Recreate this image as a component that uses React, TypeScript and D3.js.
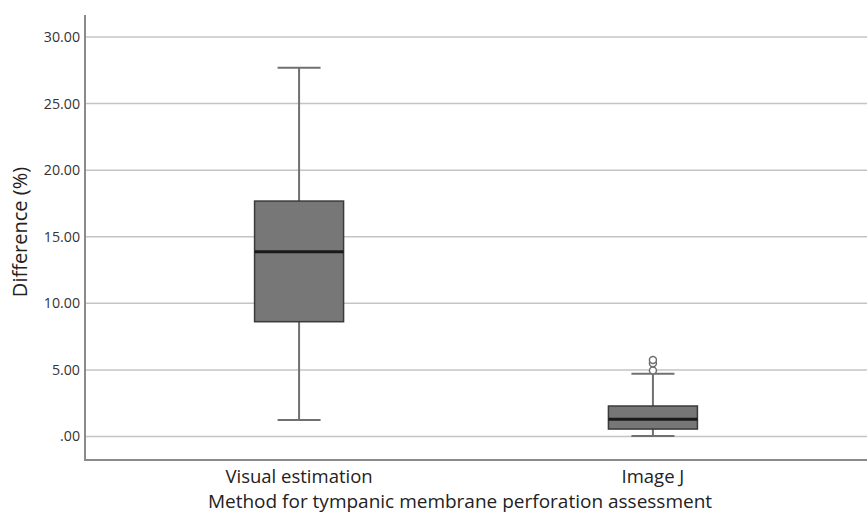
import React, { useEffect, useRef } from 'react'
import * as d3 from 'd3'

// box plot values
const categories = ['Visual estimation', 'Image J']
const whiskerLow = [1.24, 0.04]
const q1 = [8.62, 0.56]
const median = [13.87, 1.29]
const q3 = [17.68, 2.29]
const whiskerHigh = [27.7, 4.72]
const outliers = [[], [4.95, 5.5, 5.75]]
const yTicks = [0, 5, 10, 15, 20, 25, 30]

export default function App() {
  const ref = useRef<SVGSVGElement>(null)

  useEffect(() => {
    const W = 867,
      H = 517
    const margin = { top: 15, right: 0, bottom: 58, left: 85 }
    const svg = d3.select(ref.current)
    svg.selectAll('*').remove()

    const y = d3.scaleLinear().domain([0, 30]).range([436.5, 37])
    const x = d3
      .scalePoint()
      .domain(categories)
      .range([margin.left, W - margin.right])
      .padding(0.605)

    const font = "'Open Sans', sans-serif"

    // grid lines
    svg
      .append('g')
      .selectAll('line')
      .data(yTicks)
      .join('line')
      .attr('x1', margin.left)
      .attr('x2', W)
      .attr('y1', (d) => y(d))
      .attr('y2', (d) => y(d))
      .style('stroke', '#c4c4c4')
      .style('stroke-width', '1.5px')

    // tick labels
    svg
      .append('g')
      .selectAll('text')
      .data(yTicks)
      .join('text')
      .attr('x', 80)
      .attr('y', (d) => y(d))
      .attr('dy', '0.35em')
      .attr('text-anchor', 'end')
      .attr('font-family', font)
      .attr('font-size', 14.2)
      .style('fill', '#333')
      .text((d) => (d === 0 ? '.00' : d3.format('.2f')(d)))

    // axes lines
    const axisBottom = H - margin.bottom
    svg
      .append('path')
      .attr('d', `M${margin.left},${margin.top}V${axisBottom + 1}H${W}`)
      .style('fill', 'none')
      .style('stroke', '#8a8a8a')
      .style('stroke-width', '2px')

    const boxW = 89
    const capW = 43
    const g = svg
      .append('g')
      .selectAll('g')
      .data(categories)
      .join('g')

    // whiskers
    g.append('line')
      .attr('x1', (d) => x(d)!)
      .attr('x2', (d) => x(d)!)
      .attr('y1', (d, i) => y(whiskerLow[i]))
      .attr('y2', (d, i) => y(whiskerHigh[i]))
      .style('stroke', '#707070')
      .style('stroke-width', '2px')
    ;[whiskerLow, whiskerHigh].forEach((arr) => {
      g.append('line')
        .attr('x1', (d) => x(d)! - capW / 2)
        .attr('x2', (d) => x(d)! + capW / 2)
        .attr('y1', (d, i) => y(arr[i]))
        .attr('y2', (d, i) => y(arr[i]))
        .style('stroke', '#707070')
        .style('stroke-width', '2px')
    })

    // box
    g.append('rect')
      .attr('x', (d) => x(d)! - boxW / 2)
      .attr('width', boxW)
      .attr('y', (d, i) => y(q3[i]))
      .attr('height', (d, i) => y(q1[i]) - y(q3[i]))
      .style('fill', '#777777')
      .style('stroke', '#3a3a3a')
      .style('stroke-width', '1.5px')

    // median
    g.append('line')
      .attr('x1', (d) => x(d)! - boxW / 2)
      .attr('x2', (d) => x(d)! + boxW / 2)
      .attr('y1', (d, i) => y(median[i]))
      .attr('y2', (d, i) => y(median[i]))
      .style('stroke', '#1a1a1a')
      .style('stroke-width', '3px')

    // outliers
    g.selectAll('circle')
      .data((d, i) => outliers[i].map((v) => ({ c: d, v })))
      .join('circle')
      .attr('cx', (d) => x(d.c)!)
      .attr('cy', (d) => y(d.v))
      .attr('r', 3.5)
      .style('fill', 'white')
      .style('stroke', '#707070')
      .style('stroke-width', '1.5px')

    // category labels
    svg
      .append('g')
      .selectAll('text')
      .data(categories)
      .join('text')
      .attr('x', (d) => x(d)!)
      .attr('y', 483)
      .attr('text-anchor', 'middle')
      .attr('font-family', font)
      .attr('font-size', 18.5)
      .style('fill', '#222')
      .text((d) => d)

    // axis titles
    svg
      .append('text')
      .attr('x', 460)
      .attr('y', 508)
      .attr('text-anchor', 'middle')
      .attr('font-family', font)
      .attr('font-size', 19)
      .style('fill', '#222')
      .text('Method for tympanic membrane perforation assessment')

    svg
      .append('text')
      .attr('transform', 'translate(27,232) rotate(-90)')
      .attr('text-anchor', 'middle')
      .attr('font-family', font)
      .attr('font-size', 20)
      .style('fill', '#222')
      .text('Difference (%)')
  }, [])

  return (
    <svg
      ref={ref}
      width={867}
      height={517}
      style={{ position: 'absolute', left: 0, top: 0, background: 'white' }}
    />
  )
}
